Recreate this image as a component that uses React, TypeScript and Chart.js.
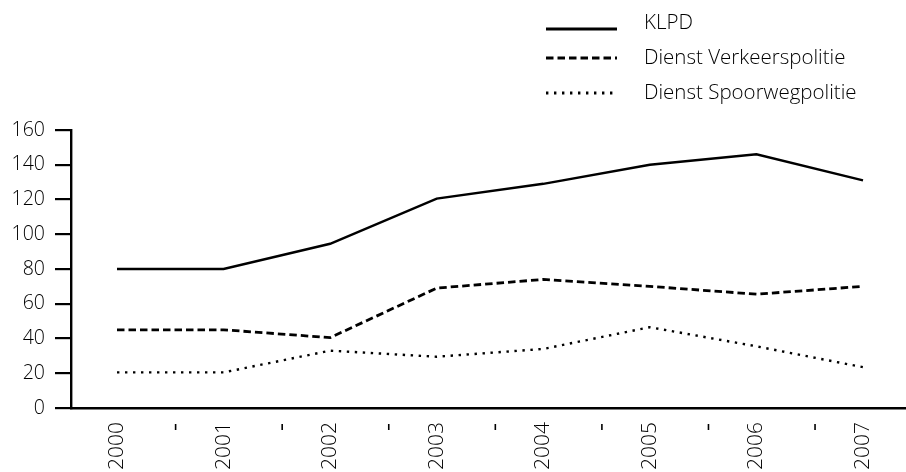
import React, { useEffect, useRef } from "react";
import { Chart, registerables } from "chart.js";

Chart.register(...registerables);

const years = ["2000", "2001", "2002", "2003", "2004", "2005", "2006", "2007"];
const klpd = [80, 80, 94.5, 120.5, 129, 140, 146, 131];
const verkeerspolitie = [45, 45, 40.5, 69, 74, 70, 65.5, 70];
const spoorwegpolitie = [20.5, 20.5, 33, 29.5, 34, 46.5, 35.5, 23.5];
const seriesNames = ["KLPD", "Dienst Verkeerspolitie", "Dienst Spoorwegpolitie"];
const yTicks = [0, 20, 40, 60, 80, 100, 120, 140, 160];

const FONT = "'Open Sans', 'Noto Sans', sans-serif";
const WEIGHT = 300;

const legendPlugin = {
  id: "customLegend",
  afterDraw(chart: any) {
    const o = chart.options.plugins.customLegend;
    const ctx = chart.ctx;
    chart.data.datasets.forEach((ds: any, i: number) => {
      const y = o.top + i * o.rowGap;
      ctx.save();
      ctx.strokeStyle = ds.borderColor;
      ctx.lineWidth = ds.borderWidth + 0.4;
      ctx.setLineDash(ds.borderDash || []);
      ctx.beginPath();
      const ly = y + (o.lineOffsets[i] || 0);
      ctx.moveTo(o.lineX, ly);
      ctx.lineTo(o.lineX + o.lineLen, ly);
      ctx.stroke();
      ctx.setLineDash([]);
      ctx.fillStyle = "#000";
      ctx.font = `${WEIGHT} ${o.fontSize}px ${FONT}`;
      ctx.textBaseline = "middle";
      ctx.textAlign = "left";
      ctx.fillText(ds.label, o.textX, y);
      ctx.restore();
    });
  },
};

const betweenTicksPlugin = {
  id: "betweenTicks",
  afterDraw(chart: any) {
    const xs = chart.scales.x;
    const ctx = chart.ctx;
    ctx.save();
    ctx.strokeStyle = "#000";
    ctx.lineWidth = 1.6;
    for (let i = 0; i < years.length - 1; i++) {
      const px = xs.getPixelForValue(Number(years[i]) + 0.55);
      ctx.beginPath();
      ctx.moveTo(px, xs.top + 16);
      ctx.lineTo(px, xs.top + 22);
      ctx.stroke();
    }
    ctx.restore();
  },
};

export default function App() {
  const ref = useRef<HTMLCanvasElement>(null);
  useEffect(() => {
    if (!ref.current) return;
    const chart = new Chart(ref.current, {
      type: "line",
      data: {
        labels: years,
        datasets: [
          {
            label: seriesNames[0],
            data: klpd,
            borderColor: "#000",
            borderWidth: 2.5,
            borderDash: [],
            pointRadius: 0,
            tension: 0,
            fill: false,
          },
          {
            label: seriesNames[1],
            data: verkeerspolitie,
            borderColor: "#000",
            borderWidth: 2.8,
            borderDash: [7.5, 4],
            pointRadius: 0,
            tension: 0,
            fill: false,
          },
          {
            label: seriesNames[2],
            data: spoorwegpolitie,
            borderColor: "#000",
            borderWidth: 2.4,
            borderDash: [2.4, 5.6],
            pointRadius: 0,
            tension: 0,
            fill: false,
          },
        ],
      },
      options: {
        animation: false,
        responsive: true,
        maintainAspectRatio: false,
        layout: { padding: { top: 130, right: 0, left: 0, bottom: 0 } },
        plugins: {
          legend: { display: false },
          tooltip: { enabled: false },
          customLegend: {
            top: 23,
            rowGap: 35,
            lineX: 546,
            lineLen: 71,
            textX: 644,
            fontSize: 20.5,
            lineOffsets: [6, 0, 0],
          },
        } as any,
        scales: {
          x: {
            type: "linear",
            min: 2000 - 0.4316,
            max: 2007 + 0.4035,
            afterBuildTicks: (scale: any) => {
              scale.ticks = years.map((y) => ({ value: Number(y) }));
            },
            afterFit: (scale: any) => {
              scale.height = 64;
            },
            grid: { display: false, drawTicks: false },
            border: { display: true, color: "#000", width: 2.4 },
            ticks: {
              autoSkip: false,
              minRotation: 90,
              maxRotation: 90,
              padding: 14,
              color: "#000",
              font: { family: FONT, size: 21, weight: WEIGHT as any },
              callback: (v: any) => String(v),
            },
          },
          y: {
            min: 0,
            max: 160,
            afterBuildTicks: (scale: any) => {
              scale.ticks = yTicks.map((v) => ({ value: v }));
            },
            afterFit: (scale: any) => {
              scale.width = 71;
            },
            grid: {
              drawOnChartArea: false,
              drawTicks: true,
              tickLength: 16,
              color: "#000",
              lineWidth: 2.2,
            },
            border: { display: true, color: "#000", width: 2.4 },
            ticks: {
              padding: 10,
              color: "#000",
              font: { family: FONT, size: 19.5, weight: WEIGHT as any },
            },
          },
        },
      },
      plugins: [legendPlugin, betweenTicksPlugin],
    });
    return () => chart.destroy();
  }, []);
  return (
    <div style={{ position: "absolute", left: 0, top: 0, width: 906, height: 472 }}>
      <canvas ref={ref} />
    </div>
  );
}
